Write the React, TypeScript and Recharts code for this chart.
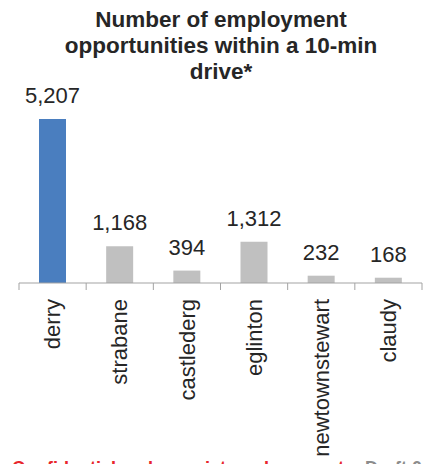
import React from 'react';
import { BarChart, Bar, XAxis, YAxis, Cell, LabelList } from 'recharts';

const categories = ['derry', 'strabane', 'castlederg', 'eglinton', 'newtownstewart', 'claudy'];
const jobs = [5207, 1168, 394, 1312, 232, 168];
const highlighted = 'derry';
const titleLines = ['Number of employment', 'opportunities within a 10-min', 'drive*'];
const footerRed = 'Confidential and proprietary document';
const footerGray = 'Draft 0';

const data = categories.map((name, i) => ({ name, value: jobs[i] }));

const W = 438;
const H = 464;
const M = { top: 94, right: 16, bottom: 0, left: 19 };
const BAND = (W - M.left - M.right) / categories.length;
const TICK_SIZE = 7;
const TICK_MARGIN = 9;
const FONT = '"Liberation Sans", Arial, sans-serif';
const AXIS_COLOR = '#A3A3A3';

const CatTick = (props: any) => {
  const { x, y, payload, index } = props;
  const axisY = y - TICK_SIZE - TICK_MARGIN;
  const half = BAND / 2;
  return (
    <g>
      <line x1={x - half} x2={x - half} y1={axisY} y2={axisY + TICK_SIZE} stroke={AXIS_COLOR} strokeWidth={1} />
      {index === categories.length - 1 && (
        <line x1={x + half} x2={x + half} y1={axisY} y2={axisY + TICK_SIZE} stroke={AXIS_COLOR} strokeWidth={1} />
      )}
      <text
        x={x}
        y={y}
        dy="0.35em"
        transform={`rotate(-90, ${x}, ${y})`}
        textAnchor="end"
        fill="#262626"
        fontSize={22}
        fontFamily={FONT}
      >
        {payload.value}
      </text>
    </g>
  );
};

export default function App() {
  return (
    <div style={{ position: 'absolute', left: 0, top: 0, width: W, height: H, overflow: 'hidden', background: '#fff' }}>
      <BarChart width={W} height={H} data={data} margin={M}>
        <YAxis hide domain={[0, 6000]} />
        <XAxis
          dataKey="name"
          height={H - 283 - M.bottom}
          interval={0}
          stroke={AXIS_COLOR}
          tickLine={false}
          tickSize={TICK_SIZE}
          tickMargin={TICK_MARGIN}
          tick={<CatTick />}
        />
        <Bar dataKey="value" barSize={27} isAnimationActive={false}>
          {data.map((d) => (
            <Cell key={d.name} fill={d.name === highlighted ? '#4A7EBF' : '#C0C0C0'} />
          ))}
          <LabelList
            dataKey="value"
            position="top"
            offset={16}
            formatter={(v: any) => Number(v).toLocaleString('en-US')}
            style={{ fontSize: 22, fontFamily: FONT, fill: '#262626' }}
          />
        </Bar>
      </BarChart>
      <svg width={W} height={H} style={{ position: 'absolute', left: 0, top: 0, pointerEvents: 'none' }}>
        {titleLines.map((t, i) => (
          <text
            key={t}
            x={221}
            y={27 + i * 26}
            textAnchor="middle"
            fontSize={22.5}
            fontWeight="bold"
            fontFamily={FONT}
            fill="#262626"
          >
            {t}
          </text>
        ))}
        <text x={12} y={474} fontSize={18} fontWeight="bold" fontFamily={FONT} fill="#E8262B">
          {footerRed}
        </text>
        <text x={365} y={474} fontSize={18} fontWeight="bold" fontFamily={FONT} fill="#8C8C8C">
          {footerGray}
        </text>
      </svg>
    </div>
  );
}
